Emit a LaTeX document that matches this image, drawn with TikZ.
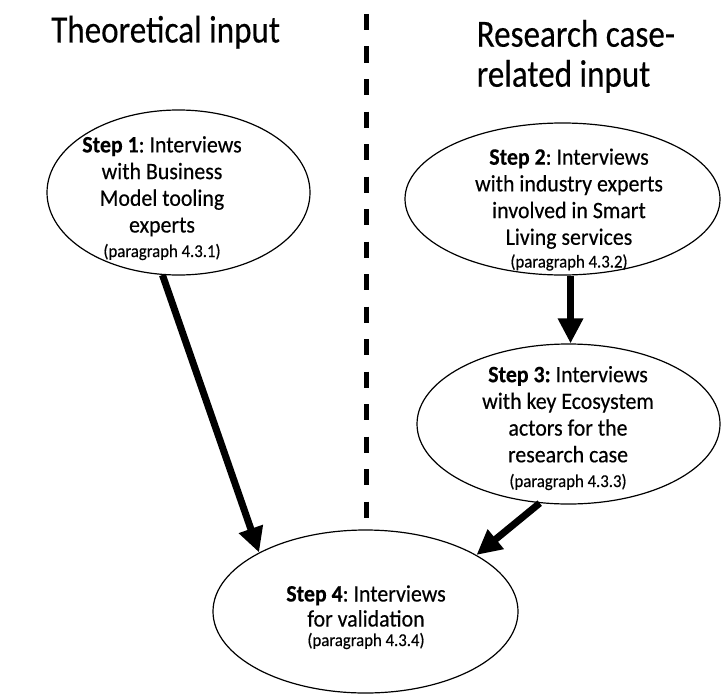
\documentclass[tikz,border=0pt]{standalone}
\usepackage{fontspec}
\setmainfont{Carlito}[FakeStretch=0.93, FakeBold=0.35]
\newfontfamily\headfont{Carlito}[FakeStretch=0.86, FakeBold=0.3]
\usetikzlibrary{arrows.meta,shapes.geometric}
\newcommand{\parref}[1]{{\fontsize{18}{20}\selectfont (paragraph #1)}}
\begin{document}
\frenchspacing
\begin{tikzpicture}[x=1pt,y=-1pt,
  stepell/.style={draw, ellipse, line width=1.2pt, inner sep=0pt},
  steptext/.style={align=center, inner sep=0pt, anchor=base, font=\fontsize{23.5}{26.7}\selectfont},
  heading/.style={align=left, inner sep=0pt, anchor=base west, font=\headfont\fontsize{38.5}{40}\selectfont},
  flow/.style={line width=7pt, -{Triangle[length=25pt,width=24pt]}},
  divider/.style={line width=5pt, dash pattern=on 16pt off 16.5pt}
]
\useasboundingbox (0,0) rectangle (722,693);

% column headings (a node's base is the baseline of its last line)
\node[heading] (hleft) at (51,42.5) {Theoretical input};
\node[heading] (hright) at (476.5,86.7) {Research case-\\related input};

% divider between the two columns
\coordinate (divtop) at (366,14);
\coordinate (divbot) at (366,525);
\draw[divider] (divtop) -- (divbot);

% the four interview steps
\node[stepell, minimum width=263pt, minimum height=165pt] (s1) at (178.5,192.5) {};
\node[steptext] (t1) at (162,257) {\textbf{Step 1}: Interviews\\with Business\\Model tooling\\experts\\[-2.2pt]\parref{4.3.1}};

\node[stepell, minimum width=315pt, minimum height=152pt] (s2) at (562.5,199) {};
\node[steptext] (t2) at (569,267.5) {\textbf{Step 2}: Interviews\\with industry experts\\involved in Smart\\Living services\\[-4pt]\parref{4.3.2}};

\node[stepell, minimum width=303pt, minimum height=160pt] (s3) at (568.5,424) {};
\node[steptext] (t3) at (568,487) {\textbf{Step 3:} Interviews\\with key Ecosystem\\actors for the\\research case\\[-2pt]\parref{4.3.3}};

\node[stepell, minimum width=305pt, minimum height=163pt] (s4) at (365.5,611.5) {};
\node[steptext] (t4) at (366,646) {\textbf{Step 4}: Interviews\\[-1.7pt]for validation\\[-7.2pt]\parref{4.3.4}};

% flow between the steps
\draw[flow] (s1.259.6) -- (s4.151.5);
\draw[flow] (s2.276) -- (s2.276 |- s3.north);
\draw[flow] (s3.250.6) -- (s4.27.3);
\end{tikzpicture}
\end{document}
